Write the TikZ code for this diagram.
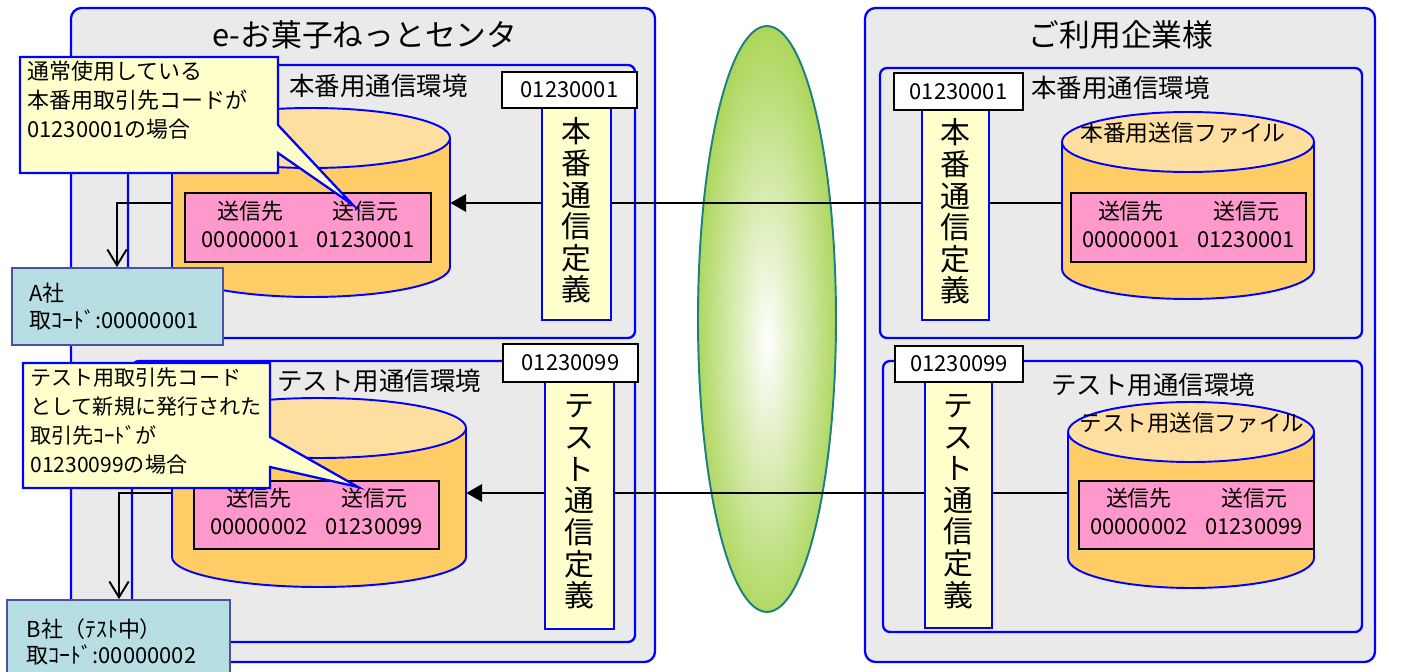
\documentclass[tikz,border=0pt]{standalone}
\usepackage{fontspec}
\setmainfont{Noto Sans CJK JP}
\usetikzlibrary{arrows.meta,fit}

\definecolor{zonegray}{HTML}{EAEAEA}
\definecolor{defyellow}{HTML}{FFFFCC}
\definecolor{keypink}{HTML}{FF99CC}
\definecolor{dbbody}{HTML}{FFCC66}
\definecolor{dbtop}{HTML}{FFDF9F}
\definecolor{cofill}{HTML}{B7DEE3}
\definecolor{coedge}{HTML}{5050A0}
\definecolor{netgreen}{HTML}{99CC33}
\definecolor{netedge}{HTML}{1A8080}

% soft white core for the network ellipse
\pgfdeclareradialshading{netglow}{\pgfpoint{0bp}{-2bp}}{%
  color(0bp)=(white); color(3bp)=(white!90!netgreen); color(16bp)=(white!50!netgreen);
  color(32bp)=(netgreen); color(50bp)=(netgreen)}

\tikzset{
  zone/.style={draw=blue, line width=1.3pt, fill=zonegray, rounded corners=6pt, inner sep=0pt},
  envbox/.style={draw=blue, line width=1.3pt, fill=zonegray, rounded corners=4pt, inner sep=0pt},
  envlabel/.style={anchor=west, inner sep=0pt, font=\fontsize{14.5}{16}\selectfont},
  idbox/.style={draw=black, line width=1pt, fill=white, inner sep=0pt},
  idtext/.style={inner sep=0pt, font=\fontsize{12.5}{14}\selectfont},
  defbox/.style={draw=blue, line width=1.3pt, fill=defyellow, inner sep=0pt},
  deftext/.style={inner sep=0pt, align=center, font=\fontsize{17}{18}\selectfont},
  keybox/.style={draw=black, line width=1pt, fill=keypink, inner sep=0pt},
  keytext/.style={inner sep=0pt, font=\fontsize{12.5}{16}\selectfont},
  cobox/.style={draw=coedge, line width=1pt, fill=cofill, inner sep=0pt},
  cotext/.style={inner sep=0pt, align=left, font=\fontsize{12.5}{15}\selectfont},
  notebox/.style={draw=blue, line width=1.3pt, fill=defyellow},
  notetext/.style={anchor=north west, inner sep=0pt, align=left, font=\fontsize{12.5}{16.3}\selectfont},
  dbline/.style={draw=blue, line width=1.1pt},
  link/.style={line width=1.1pt},
  tofile/.style={link, -{Triangle[length=9pt,width=10pt]}},
  tocom/.style={link, -{Straight Barb[length=9pt,width=11pt]}},
}

% name, centre x, half width, top y, bottom y
\newcommand{\datastore}[5]{%
  \filldraw[dbline, fill=dbbody] (#2,#5) ellipse [x radius=#3*0.02cm, y radius=0.6cm];
  \fill[dbbody] (#2-#3,#4) rectangle (#2+#3,#5);
  \draw[dbline] (#2-#3,#4) -- (#2-#3,#5) (#2+#3,#4) -- (#2+#3,#5);
  \filldraw[dbline, fill=dbtop] (#2,#4) ellipse [x radius=#3*0.02cm, y radius=0.6cm];
  \node[fit={(#2-#3,#4) (#2+#3,#5)}, inner sep=0pt] (#1) {};
}
\newcommand{\keypair}[2]{\begin{tabular}{@{}c@{\hspace{10pt}}c@{}}送信先 & 送信元\\ #1 & #2\end{tabular}}

\begin{document}
\begin{tikzpicture}[x=0.02cm, y=-0.02cm]
  \useasboundingbox (0,0) rectangle (1406,672);

  % the two sites
  \node[zone, fit={(71,8) (655,662)}] (center) {};
  \node[zone, fit={(865,8) (1375,662)}] (client) {};
  \node[font=\fontsize{17.5}{20}\selectfont] (titleL) at (365,35) {e-お菓子ねっとセンタ};
  \node[font=\fontsize{17.5}{20}\selectfont] (titleR) at (1121,35) {ご利用企業様};

  % communication environments
  \node[envbox, fit={(128,65) (635,338)}] (envL1) {};
  \node[envbox, fit={(132,361) (635,642)}] (envL2) {};
  \node[envbox, fit={(880,68) (1362,338)}] (envR1) {};
  \node[envbox, fit={(883,361) (1362,632)}] (envR2) {};
  \node[envlabel] (labL1) at (289,86) {本番用通信環境};
  \node[envlabel] (labL2) at (277,381) {テスト用通信環境};
  \node[envlabel] (labR1) at (1031,88) {本番用通信環境};
  \node[envlabel] (labR2) at (1051,385) {テスト用通信環境};

  % files
  \foreach \nm/\cx/\rx/\yt/\yb in {dbL1/311/139/138/267, dbL2/319/147/428/557,
      dbR1/1188/126/142/269, dbR2/1191/123/432/558}
    \datastore{\nm}{\cx}{\rx}{\yt}{\yb};
  \node[font=\fontsize{13}{15}\selectfont] (fileR1) at (1183,133) {本番用送信ファイル};
  \node[font=\fontsize{12.8}{15}\selectfont] (fileR2) at (1192,423) {テスト用送信ファイル};

  \foreach \nm/\xa/\ya/\xb/\yb/\dst/\src in {keyL1/185/193/431/262/00000001/01230001,
      keyL2/194/481/439/549/00000002/01230099, keyR1/1071/193/1306/262/00000001/01230001,
      keyR2/1079/481/1314/549/00000002/01230099} {
    \node[keybox, fit={(\xa,\ya) (\xb,\yb)}] (\nm) {};
    \node[keytext] (\nm t) at (\nm) {\keypair{\dst}{\src}};
  }

  % definitions and their codes
  \foreach \nm/\xa/\ya/\xb/\yb/\txt in {defL1/542/108/611/320/{本\\番\\通\\信\\定\\義},
      defL2/545/382/614/629/{テ\\ス\\ト\\通\\信\\定\\義},
      defR1/922/110/989/320/{本\\番\\通\\信\\定\\義},
      defR2/925/382/992/628/{テ\\ス\\ト\\通\\信\\定\\義}} {
    \node[defbox, fit={(\xa,\ya) (\xb,\yb)}] (\nm) {};
    \node[deftext] (\nm t) at ([yshift=2pt]\nm.center) {\txt};
  }
  \foreach \nm/\xa/\ya/\xb/\yb/\code in {idL1/502/72/637/108/01230001, idL2/503/344/638/382/01230099,
      idR1/894/73/1023/110/01230001, idR2/895/346/1023/382/01230099} {
    \node[idbox, fit={(\xa,\ya) (\xb,\yb)}] (\nm) {};
    \node[idtext] (\nm t) at (\nm) {\code};
  }

  % network
  \shadedraw[shading=netglow, draw=netedge, line width=1.1pt] (767,319) ellipse [x radius=1.38cm, y radius=5.86cm];

  % links
  \coordinate (rowL1) at (0,203);
  \coordinate (rowL2) at (0,493);
  \coordinate (dropA) at (117,0);
  \coordinate (dropB) at (119,0);
  \draw[link] (defR1.west |- rowL1) -- (defL1.east |- rowL1);
  \draw[link] (defR1.east |- rowL1) -- (dbR1.west |- rowL1);
  \draw[tofile] (defL1.west |- rowL1) -- (dbL1.east |- rowL1);
  \draw[link] (defR2.west |- rowL2) -- (defL2.east |- rowL2);
  \draw[link] (defR2.east |- rowL2) -- (dbR2.west |- rowL2);
  \draw[tofile] (defL2.west |- rowL2) -- (dbL2.east |- rowL2);

  % notes
  \draw[notebox] (20,57) -- (278,57) -- (278,125) -- (353,205) -- (278,153) -- (278,173) -- (20,173) -- cycle;
  \node[notetext] (noteL1) at (27,61) {通常使用している\\本番用取引先コードが\\01230001の場合};
  \draw[notebox] (23,363) -- (270,363) -- (270,437) -- (358,487) -- (270,467) -- (270,488) -- (23,488) -- cycle;
  \node[notetext, font=\fontsize{12}{16.5}\selectfont] (noteL2) at (30,367) {テスト用取引先コード\\として新規に発行された\\取引先ｺｰﾄﾞが\\01230099の場合};

  % companies
  \node[cobox, fit={(12,268) (223,345)}] (coA) {};
  \node[cotext] (coAt) at ([xshift=-2pt]coA) {A社\\取ｺｰﾄﾞ:00000001};
  \node[cobox, fit={(7,600) (230,684)}] (coB) {};
  \node[cotext] (coBt) at ([xshift=-4pt]coB) {B社（ﾃｽﾄ中）\\取ｺｰﾄﾞ:00000002};
  \draw[tocom] (dbL1.west |- rowL1) -| (dropA |- coA.north);
  \draw[tocom] (dbL2.west |- rowL2) -| (dropB |- coB.north);
\end{tikzpicture}
\end{document}
